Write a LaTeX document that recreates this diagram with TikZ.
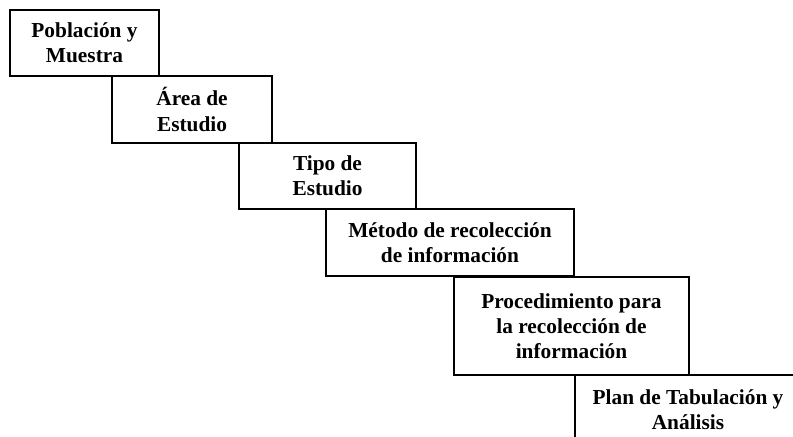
\documentclass[tikz,border=0pt]{standalone}
\usepackage{fontspec}
\setmainfont{Liberation Serif}
\begin{document}
\begin{tikzpicture}[x=0.75pt,y=-0.75pt,
  stepbox/.style={draw=black, line width=0.8pt, fill=white, rectangle, inner sep=0pt,
    align=center, font=\fontsize{16}{18.8}\selectfont\bfseries}]
\clip (0,0) rectangle (793,436);
\fill[white] (0,0) rectangle (793,436);
\node[stepbox, minimum width=111.75pt, minimum height=49.5pt] (b1) at (84.5,43) {Población y\\Muestra};
\node[stepbox, minimum width=120pt, minimum height=50.25pt] (b2) at (192,109.5) {Área de\\Estudio};
\node[stepbox, minimum width=132.75pt, minimum height=49.5pt] (b3) at (327.5,176) {Tipo de\\Estudio};
\node[stepbox, minimum width=186pt, minimum height=50.25pt] (b4) at (450,242.5) {Método de recolección\\de información};
\node[stepbox, minimum width=176.25pt, minimum height=73.5pt] (b5) at (571.5,326) {Procedimiento para\\la recolección de\\información};
\node[stepbox, minimum width=169.5pt, minimum height=51.75pt] (b6) at (688,409.5) {Plan de Tabulación y\\Análisis};
\end{tikzpicture}
\end{document}
